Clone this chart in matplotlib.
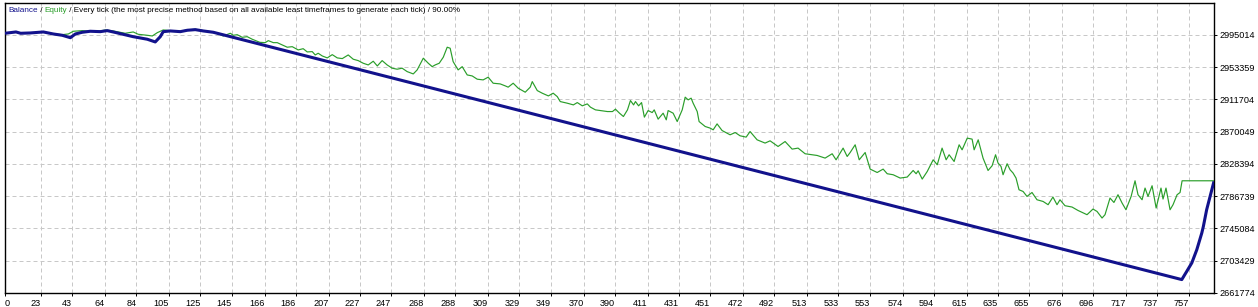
import matplotlib
matplotlib.use("Agg")
import matplotlib.pyplot as plt

# values (x = trade number, y = account value)
balance_trade = [0, 7, 10, 16, 24.5, 30.9, 36.6, 41.8, 45.0, 49.4, 54.5, 60.9, 65.4, 69.2,
                 82.0, 91.0, 96.1, 99.3, 101.2, 105.7, 112.1, 116.6, 121.7, 126.8, 133.2,
                 752.6, 755.8, 759.0, 762.2, 765.4, 766.4, 768.5, 770.7, 773.2]
balance_value = [2997200, 2998900, 2997200, 2997600, 2998900, 2996300, 2994600, 2991500,
                 2996300, 2998500, 2999800, 2999300, 3000600, 2998900,
                 2992800, 2989500, 2986000, 2992800, 2999300, 3000200, 2999300, 3001100,
                 3001900, 3000200, 2998500,
                 2679100, 2689800, 2700600, 2717700, 2739300, 2747800, 2769300, 2786500, 2806000]

equity_trade = [
    0, 7, 10, 16, 24.5, 30.9, 36.6, 40.5, 43.7, 49.4, 54.5, 60.9, 64.1, 69.2, 76.9, 82.0,
    85.2, 91.0, 94.2, 97.4, 101.2, 105.7, 112.1, 116.6, 121.7, 126.8, 133.2, 139.6, 144.1,
    146.0, 148.5, 151.7, 154.9, 158.1, 163.0, 166.4, 168.4, 171.6, 174.1, 177.3, 180.5,
    183.7, 187.5, 190.7, 193.3, 196.5, 198.4, 200.3, 202.9, 206.1, 209.3, 212.5, 215.7,
    219.5, 222.7, 225.9, 229.1, 232.3, 235.5, 238.1, 241.2, 244.4, 247.6, 250.8, 254.0,
    257.2, 261.1, 263.6, 267.5, 270.7, 273.2, 275.1, 277.7, 280.3, 282.8, 284.7, 286.6,
    289.8, 292.4, 295.6, 298.8, 302.0, 305.8, 309.0, 312.2, 316.7, 320.0, 321.8, 325.0,
    328.2, 332.7, 335.9, 337.2, 340.4, 343.6, 347.5, 350.6, 353.2, 355.1, 359.6, 363.5,
    366.0, 369.2, 372.4, 374.4, 377.6, 380.8, 385.3, 388.5, 390.4, 393.0, 395.5, 398.1,
    400.0, 402.0, 403.2, 405.2, 407.1, 408.9, 411.3, 413.9, 415.2, 417.7, 420.9, 422.9,
    424.1, 427.3, 429.9, 433.1, 435.0, 436.9, 438.8, 440.1, 442.7, 443.9, 447.8, 451.0,
    452.9, 455.4, 458.6, 463.7, 467.0, 470.1, 474.0, 476.5, 481.0, 486.1, 489.3, 494.4,
    498.9, 503.4, 507.2, 511.7, 519.4, 524.5, 529.0, 531.5, 536.0, 538.6, 540.5, 543.7,
    546.3, 550.1, 553.3, 557.8, 561.6, 564.2, 568.0, 572.5, 577.0, 580.8, 582.7, 584.0,
    586.6, 589.8, 593.6, 596.2, 599.3, 601.9, 603.8, 607.0, 610.2, 612.1, 615.4, 618.5,
    619.8, 622.4, 625.5, 628.7, 631.3, 633.5, 635.1, 637.0, 638.3, 640.9, 642.8, 644.7,
    646.6, 648.5, 651.1, 653.6, 656.8, 660.0, 663.9, 667.1, 670.2, 672.8, 674.7, 677.9,
    682.4, 686.2, 692.0, 695.8, 698.4, 701.6, 703.5, 706.7, 709.2, 711.8, 714.4, 716.9,
    720.2, 722.7, 724.6, 727.2, 729.1, 731.0, 733.6, 736.2, 739.3, 740.6, 742.5, 745.1,
    747.0, 749.6, 751.5, 752.8, 773.2]
equity_value = [
    2997200, 2998900, 2997200, 2997600, 2998900, 2996300, 2995400, 2996300, 2999800, 3000600,
    2999800, 3000200, 3001500, 3000200, 2997200, 2998900,
    2995900, 2994600, 2993700, 2998000, 3001500, 3000600, 2999800, 3001500, 3002400, 3000600,
    2998900, 2993700, 2997200,
    2994600, 2995400, 2992000, 2992800, 2989500, 2985500, 2985100, 2987700, 2985100, 2985100,
    2982100, 2979200,
    2979900, 2975700, 2977300, 2973100, 2973500, 2969200, 2971400, 2967900, 2965400, 2969600,
    2965400, 2964500,
    2969200, 2963700, 2961900, 2958500, 2956300, 2961100, 2955000, 2961900, 2956300, 2952100,
    2950800, 2952100,
    2947700, 2944700, 2949900, 2965000, 2958500, 2954100, 2956300, 2958500, 2966300, 2979200,
    2977900, 2960600,
    2949900, 2954100, 2943400, 2942100, 2937900, 2937000, 2940500, 2932700, 2931800, 2929200,
    2927600, 2932700,
    2926300, 2921100, 2927600, 2934800, 2923200, 2919800, 2916300, 2919800, 2915400, 2909000,
    2906900, 2904700,
    2907700, 2903500, 2906000, 2901800, 2898300, 2897400, 2896100, 2896100, 2899200, 2894000,
    2889700, 2898300,
    2910300, 2904700, 2909000, 2903500, 2907700, 2888900, 2897400, 2894800, 2898300, 2886300,
    2894000, 2885400,
    2897400, 2894000, 2883200, 2898300, 2914700, 2911200, 2913400, 2906900, 2896100, 2883200,
    2876800, 2874700,
    2872500, 2880200, 2871600, 2866100, 2869000, 2864800, 2863100, 2870300, 2859600, 2855400,
    2858300, 2851000,
    2857400, 2847600, 2848900, 2841600, 2839400, 2836000, 2841600, 2833800, 2848900, 2838100,
    2843200, 2853200,
    2833800, 2843200, 2821800, 2817400, 2821800, 2815800, 2814500, 2810200, 2811500, 2820000,
    2815800, 2819600,
    2808900, 2818700, 2833800, 2827400, 2848900, 2833800, 2840300, 2831600, 2853200, 2846700,
    2861800, 2860500,
    2846700, 2859600, 2836000, 2820000, 2826100, 2840300, 2829600, 2825200, 2814500, 2828700,
    2820900, 2816700,
    2810200, 2795100, 2792900, 2786500, 2791600, 2782200, 2780000, 2775800, 2785700, 2775800,
    2782200, 2774500,
    2772800, 2768400, 2762900, 2770200, 2767100, 2758600, 2762900, 2784400, 2778700, 2788700,
    2778000, 2769300,
    2786500, 2806700, 2788700, 2782200, 2797300, 2786500, 2800300, 2771500, 2797300, 2783100,
    2797300, 2769300,
    2775800, 2788700, 2791600, 2806700, 2806700]

x_tick_labels = [0, 23, 43, 64, 84, 105, 125, 145, 166, 186, 207, 227, 247, 268, 288, 309,
                 329, 349, 370, 390, 411, 431, 451, 472, 492, 513, 533, 553, 574, 594, 615,
                 635, 655, 676, 696, 717, 737, 757]
y_tick_labels = [2661774, 2703429, 2745084, 2786739, 2828394, 2870049, 2911704, 2953359,
                 2995014]

title_parts = ["Balance", " / ", "Equity",
               " / Every tick (the most precise method based on all available least "
               "timeframes to generate each tick) / 90.00%"]

BALANCE_COLOR = "#12128C"
EQUITY_COLOR = "#2A9E2A"
GRID_COLOR = "#C8C8C8"
FS = 6.6
TITLE_FS = 5.9

plt.rcParams["font.family"] = ["Liberation Sans", "DejaVu Sans"]

W, H = 1258, 307
fig = plt.figure(figsize=(W / 100, H / 100), dpi=100)
fig.patch.set_facecolor("white")
ax = fig.add_axes([5 / W, 14 / H, 1209 / W, 290 / H])

ax.plot(equity_trade, equity_value, color=EQUITY_COLOR, lw=0.85, zorder=3)
ax.plot(balance_trade, balance_value, color=BALANCE_COLOR, lw=2.2, zorder=4,
        solid_joinstyle="round", solid_capstyle="butt")

ax.set_xlim(0, 773.2)
ax.set_ylim(2661774, 3036300)

ax.set_xticks(x_tick_labels)
ax.set_xticklabels([str(v) for v in x_tick_labels], fontsize=FS)
for i, lbl in enumerate(ax.get_xticklabels()):
    lbl.set_ha("left" if i == 0 else "right")
ax.set_yticks(y_tick_labels)
ax.set_yticklabels([str(v) for v in y_tick_labels], fontsize=FS)
ax.yaxis.tick_right()
ax.tick_params(axis="x", length=2.5, width=0.7, pad=1.5, colors="black")
ax.tick_params(axis="y", length=2.5, width=0.7, pad=1.5, colors="black")

ax.grid(True, color=GRID_COLOR, linestyle=(0, (4, 3)), lw=0.72)
ax.set_axisbelow(True)
for sp in ax.spines.values():
    sp.set_color("black")
    sp.set_linewidth(1.0)

# title line, coloured piece by piece; offsets come from the width of the text before each piece
renderer = fig.canvas.get_renderer()


def text_width(s):
    probe = fig.text(0, 0, s + "|", fontsize=TITLE_FS)
    bar = fig.text(0, 0, "|", fontsize=TITLE_FS)
    w = probe.get_window_extent(renderer).width - bar.get_window_extent(renderer).width
    probe.remove()
    bar.remove()
    return w


prefix = ""
for part, col in zip(title_parts, [BALANCE_COLOR, "black", EQUITY_COLOR, "black"]):
    x_px = 8 + (text_width(prefix) if prefix else 0)
    fig.text(x_px / W, 1 - 11 / H, part, color=col, fontsize=TITLE_FS, ha="left", va="center")
    prefix += part

fig.savefig("out.png", dpi=100)
